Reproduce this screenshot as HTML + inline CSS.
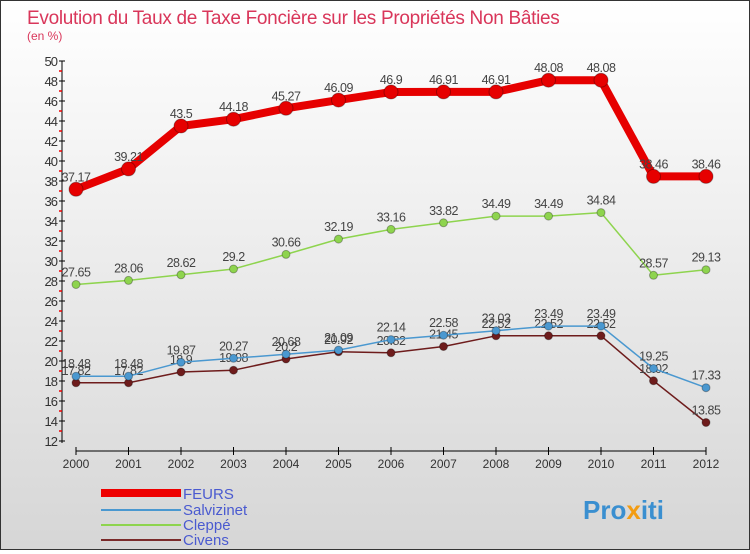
<!DOCTYPE html>
<html><head><meta charset="utf-8"><style>
body{margin:0;width:750px;height:550px;overflow:hidden;font-family:"Liberation Sans",sans-serif}
#wrap{position:relative;width:748px;height:548px;border:1px solid #333;background:linear-gradient(#fff,#d6d6d6)}
</style></head><body>
<div id="wrap">
<svg id="chart" width="748" height="548">
<text x="26" y="23" font-size="19" fill="#d9365a" letter-spacing="-0.3">Evolution du Taux de Taxe Foncière sur les Propriétés Non Bâties</text>
<text x="26" y="39" font-size="12" fill="#d9365a">(en %)</text>
<g id="axes"></g><g id="series"></g>
<g>
<line x1="100" y1="492" x2="180" y2="492" stroke="#e00" stroke-width="8"/>
<text x="182" y="498" font-size="15" fill="#4a5ad0">FEURS</text>
<line x1="100" y1="509" x2="180" y2="509" stroke="#4a98d0" stroke-width="2"/>
<text x="182" y="514" font-size="15" fill="#4a5ad0">Salvizinet</text>
<line x1="100" y1="524" x2="180" y2="524" stroke="#8ed44e" stroke-width="2"/>
<text x="182" y="529" font-size="15" fill="#4a5ad0">Cleppé</text>
<line x1="100" y1="539" x2="180" y2="539" stroke="#7a2a2a" stroke-width="2"/>
<text x="182" y="544" font-size="15" fill="#4a5ad0">Civens</text>
</g>
<text x="582" y="518" font-size="26" font-weight="bold" fill="#3a8fd0">Pro<tspan fill="#f39c12">x</tspan>iti</text>
</svg></div>
<script>
const years=["2000","2001","2002","2003","2004","2005","2006","2007","2008","2009","2010","2011","2012"];
const yTicks=[12,14,16,18,20,22,24,26,28,30,32,34,36,38,40,42,44,46,48,50];
const feurs=[37.17,39.21,43.5,44.18,45.27,46.09,46.9,46.91,46.91,48.08,48.08,38.46,38.46];
const salvizinet=[18.48,18.48,19.87,20.27,20.68,21.09,22.14,22.58,23.03,23.49,23.49,19.25,17.33];
const cleppe=[27.65,28.06,28.62,29.2,30.66,32.19,33.16,33.82,34.49,34.49,34.84,28.57,29.13];
const civens=[17.82,17.82,18.9,19.08,20.2,20.92,20.82,21.45,22.52,22.52,22.52,18.02,13.85];
const NS="http://www.w3.org/2000/svg";
const xs=i=>75+i*52.5, ys=v=>60+(50-v)*10;
function mk(t,a,p){const e=document.createElementNS(NS,t);for(const k in a)e.setAttribute(k,a[k]);p.appendChild(e);return e;}
const ax=document.getElementById('axes');
let l=mk('line',{x1:61,y1:60,x2:61,y2:442,stroke:'#000'},ax);


yTicks.forEach(v=>{
 mk('line',{x1:58,y1:ys(v),x2:64,y2:ys(v),stroke:'#000'},ax);
 if(v<50)mk('line',{x1:58,y1:ys(v+1),x2:61,y2:ys(v+1),stroke:'#e00','stroke-width':1.5},ax);
 const t=mk('text',{x:56,y:ys(v)+5,'font-size':13,fill:'#333','text-anchor':'end','letter-spacing':'-1'},ax);
 t.textContent=v;
 
 
});
l=mk('line',{x1:xs(0),y1:450,x2:xs(12),y2:450,stroke:'#000'},ax);


years.forEach((y,i)=>{
 mk('line',{x1:xs(i),y1:446,x2:xs(i),y2:454,stroke:'#000'},ax);
 const t=mk('text',{x:xs(i),y:467,'font-size':12,fill:'#333','text-anchor':'middle'},ax);
 t.textContent=y;
 
 
});
const sg=document.getElementById('series');
function draw(name,d,color,w,r){
 const g=mk('g',{},sg);
 
 
 mk('polyline',{points:d.map((v,i)=>xs(i)+','+ys(v)).join(' '),fill:'none',stroke:color,'stroke-width':w,'stroke-linejoin':'round'},g);
 d.forEach((v,i)=>{
  const c=mk('circle',{cx:xs(i),cy:ys(v),r:r,fill:color,stroke:'rgba(0,0,0,0.3)'},g);
  
  
  const t=mk('text',{x:xs(i),y:ys(v)-8,'font-size':12.5,fill:'#444','text-anchor':'middle','letter-spacing':'-0.5'},g);
  t.textContent=v;
  
  
 });
}
draw('cleppe',cleppe,'#8ed44e',1.5,4);
draw('civens',civens,'#6e1c1c',1.5,4);
draw('salvizinet',salvizinet,'#4a98d0',1.5,4);
draw('feurs',feurs,'#e60000',8,7);
</script>
</body></html>
